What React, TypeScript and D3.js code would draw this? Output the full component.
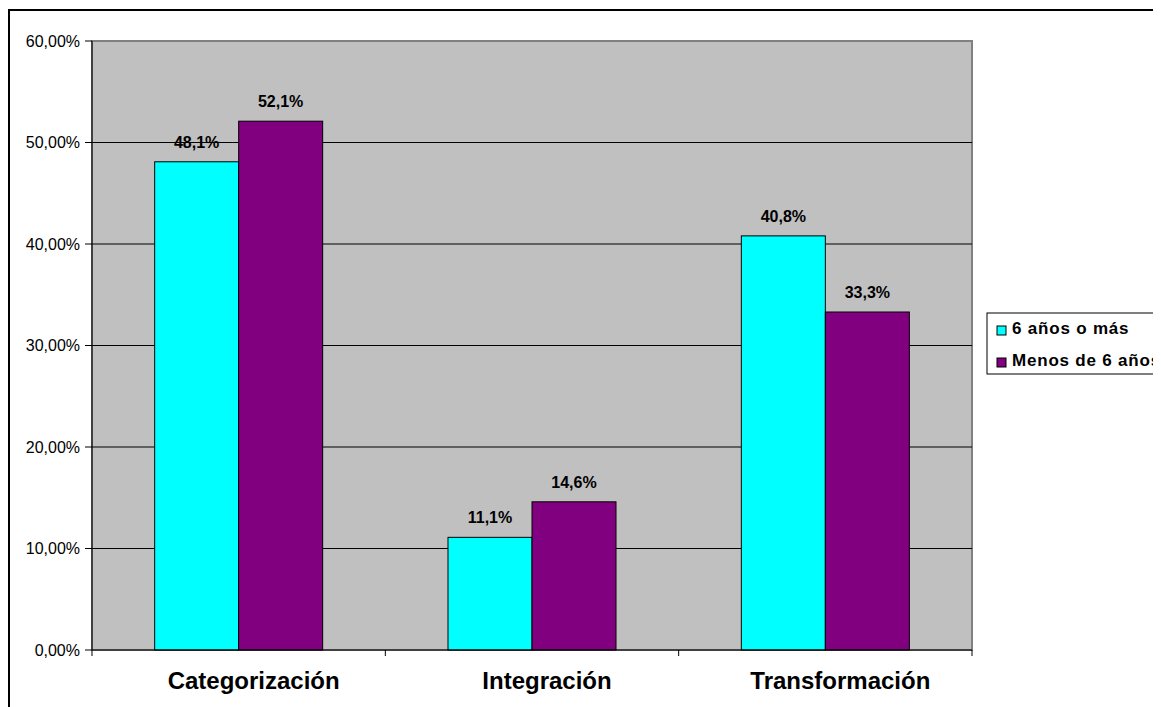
import * as d3 from "d3";

const categories = ["Categorización", "Integración", "Transformación"];
const seriesNames = ["6 años o más", "Menos de 6 años"];
const seriesA = [48.1, 11.1, 40.8];
const seriesB = [52.1, 14.6, 33.3];
const yTicks = [0, 10, 20, 30, 40, 50, 60];

const COLORS = ["#00FFFF", "#800080"];
const FONT = "Arial, 'Liberation Sans', sans-serif";

// page coords minus the 8px body margin
const PLOT = { left: 84, top: 33, right: 964, bottom: 642 };

export default function App() {
  const x = d3
    .scaleBand<string>()
    .domain(categories)
    .range([PLOT.left, PLOT.right]);
  const y = d3.scaleLinear().domain([0, 60]).range([PLOT.bottom, PLOT.top]);
  const barW = 84;

  const fmt = (v: number) => v.toFixed(1).replace(".", ",") + "%";
  const fmtTick = (v: number) => v.toFixed(2).replace(".", ",") + "%";

  const series = [seriesA, seriesB];

  return (
    <svg width={1153} height={699} style={{ display: "block" }}>
      <rect x={0} y={0} width={1153} height={699} fill="#fff" />
      {/* outer chart frame */}
      <rect x={1} y={2} width={1200} height={760} fill="none" stroke="#000" strokeWidth={2} />

      {/* plot area */}
      <rect
        x={PLOT.left}
        y={PLOT.top}
        width={PLOT.right - PLOT.left}
        height={PLOT.bottom - PLOT.top}
        fill="#C0C0C0"
        stroke="#808080"
        strokeWidth={2}
      />
      {yTicks.slice(1, -1).map((t) => (
        <line key={t} x1={PLOT.left} x2={PLOT.right} y1={y(t)} y2={y(t)} stroke="#000" strokeWidth={1} />
      ))}

      {/* bars */}
      {categories.map((c, i) => {
        const cx = (x(c) as number) + x.bandwidth() / 2;
        return (
          <g key={c}>
            {series.map((s, k) => {
              const bx = cx - barW + k * barW;
              return (
                <g key={k}>
                  <rect
                    x={bx}
                    y={y(s[i])}
                    width={barW}
                    height={y(0) - y(s[i])}
                    fill={COLORS[k]}
                    stroke="#000"
                    strokeWidth={1}
                  />
                  <text
                    x={bx + barW / 2}
                    y={y(s[i]) - 14}
                    textAnchor="middle"
                    fontFamily={FONT}
                    fontSize={16}
                    fontWeight="bold"
                  >
                    {fmt(s[i])}
                  </text>
                </g>
              );
            })}
          </g>
        );
      })}

      {/* axes */}
      <line x1={PLOT.left} x2={PLOT.left} y1={PLOT.top} y2={PLOT.bottom} stroke="#000" strokeWidth={1} />
      <line x1={PLOT.left} x2={PLOT.right} y1={PLOT.bottom} y2={PLOT.bottom} stroke="#000" strokeWidth={1} />
      {yTicks.map((t) => (
        <g key={t}>
          <line x1={PLOT.left - 7} x2={PLOT.left} y1={y(t)} y2={y(t)} stroke="#000" />
          <text
            x={PLOT.left - 12}
            y={y(t)}
            dy="0.35em"
            textAnchor="end"
            fontFamily={FONT}
            fontSize={16}
          >
            {fmtTick(t)}
          </text>
        </g>
      ))}
      {[...categories.map((c) => x(c) as number), PLOT.right].map((v, i) => (
        <line key={i} x1={v} x2={v} y1={PLOT.bottom} y2={PLOT.bottom + 6} stroke="#000" />
      ))}
      {categories.map((c) => (
        <text
          key={c}
          x={(x(c) as number) + x.bandwidth() / 2 + 15}
          y={PLOT.bottom + 39}
          textAnchor="middle"
          fontFamily={FONT}
          fontSize={24}
          fontWeight="bold"
        >
          {c}
        </text>
      ))}

      {/* legend */}
      <rect x={979} y={305} width={200} height={61} fill="#fff" stroke="#000" strokeWidth={1} />
      {seriesNames.map((n, k) => (
        <g key={n} transform={`translate(989, ${318 + k * 32})`}>
          <rect x={0} y={0} width={9} height={9} fill={COLORS[k]} stroke="#000" strokeWidth={1} />
          <text x={15} y={8} fontFamily={FONT} fontSize={17} fontWeight="bold" letterSpacing={0.8}>
            {n}
          </text>
        </g>
      ))}
    </svg>
  );
}
